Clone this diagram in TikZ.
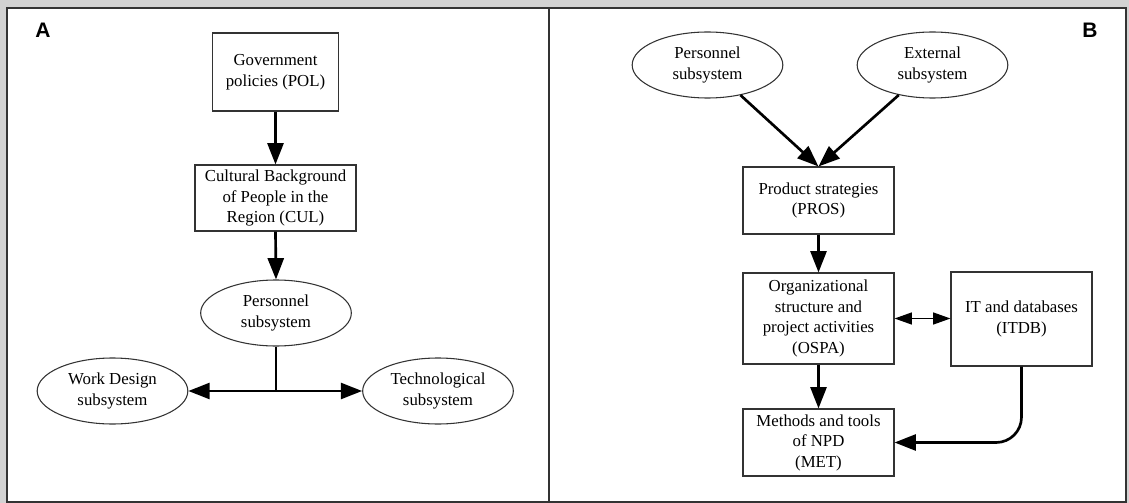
\documentclass[tikz,border=0pt]{standalone}
\usepackage{fontspec}
\setmainfont{Liberation Serif}
\newfontfamily\labelfont{Liberation Sans}
\usetikzlibrary{arrows.meta,shapes.geometric}
\tikzset{
  txt/.style={font=\fontsize{12.6}{15.4}\selectfont, align=center, inner sep=0pt},
  boxnode/.style={txt, draw=black!80, line width=0.8pt, fill=white},
  ellnode/.style={txt, ellipse, draw=black!80, line width=0.8pt, fill=white,
                  minimum width=113pt, minimum height=49.5pt},
  bigarrow/.style={line width=2pt, -{Triangle[length=16pt,width=12pt]}},
  thinline/.style={line width=1pt},
  dblarrow/.style={line width=0.9pt, {Triangle[length=13pt,width=9pt]}-{Triangle[length=13pt,width=9pt]}},
  panellabel/.style={font=\labelfont\bfseries\fontsize{15.75}{18}\selectfont, inner sep=0pt}
}
\begin{document}
\begin{tikzpicture}[x=0.75pt,y=-0.75pt]
\useasboundingbox (0,0) rectangle (1129,503);
% background and frame
\fill[gray!35] (0,0) rectangle (1129,503);
\draw[fill=white, draw=black!80, line width=1.4pt] (7,8) rectangle (1126,502);
\draw[black!80, line width=1.2pt] (549,8) -- (549,502);

% Panel labels
\node[panellabel] (la) at (43,30) {A};
\node[panellabel] (lb) at (1090,30) {B};

% Panel A
\node[boxnode, minimum width=94.5pt, minimum height=58.5pt] (pol) at (275.5,72) {Government\\policies (POL)};
\node[boxnode, minimum width=120.75pt, minimum height=49.5pt] (cul) at (275.5,198) {Cultural Background\\of People in the\\Region (CUL)};
\node[ellnode] (pa) at (276,313) {Personnel\\subsystem};
\node[ellnode] (wd) at (112.5,391) {Work Design\\subsystem};
\node[ellnode] (tech) at (438,391) {Technological\\subsystem};
\coordinate (j) at (276,391);

\draw[bigarrow] (pol.south) -- (cul.north);
\draw[bigarrow] (cul.south) -- (pa.north);
\draw[thinline] (pa.south) -- (j);
\draw[bigarrow] (j) -- (wd.east);
\draw[bigarrow] (j) -- (tech.west);

% Panel B
\node[ellnode] (pe) at (707.5,65) {Personnel\\subsystem};
\node[ellnode] (ee) at (932.5,65) {External\\subsystem};
\node[boxnode, minimum width=113.25pt, minimum height=50.25pt] (pros) at (818.5,200.5) {Product strategies\\(PROS)};
\node[boxnode, minimum width=113.25pt, minimum height=68.25pt] (ospa) at (818.5,318.5) {Organizational\\structure and\\project activities\\(OSPA)};
\node[boxnode, minimum width=105.75pt, minimum height=70.5pt] (itdb) at (1021.5,319) {IT and databases\\(ITDB)};
\node[boxnode, minimum width=113.25pt, minimum height=50.25pt] (met) at (818.5,442.5) {Methods and tools\\of NPD\\(MET)};

\draw[bigarrow] (pe) -- (pros.north);
\draw[bigarrow] (ee) -- (pros.north);
\draw[bigarrow] (pros.south) -- (ospa.north);
\draw[bigarrow] (ospa.south) -- (met.north);
\draw[dblarrow] (ospa.east) -- (ospa.east -| itdb.west);
\draw[bigarrow, rounded corners=19pt] (itdb.south) |- (met.east);
\end{tikzpicture}
\end{document}
